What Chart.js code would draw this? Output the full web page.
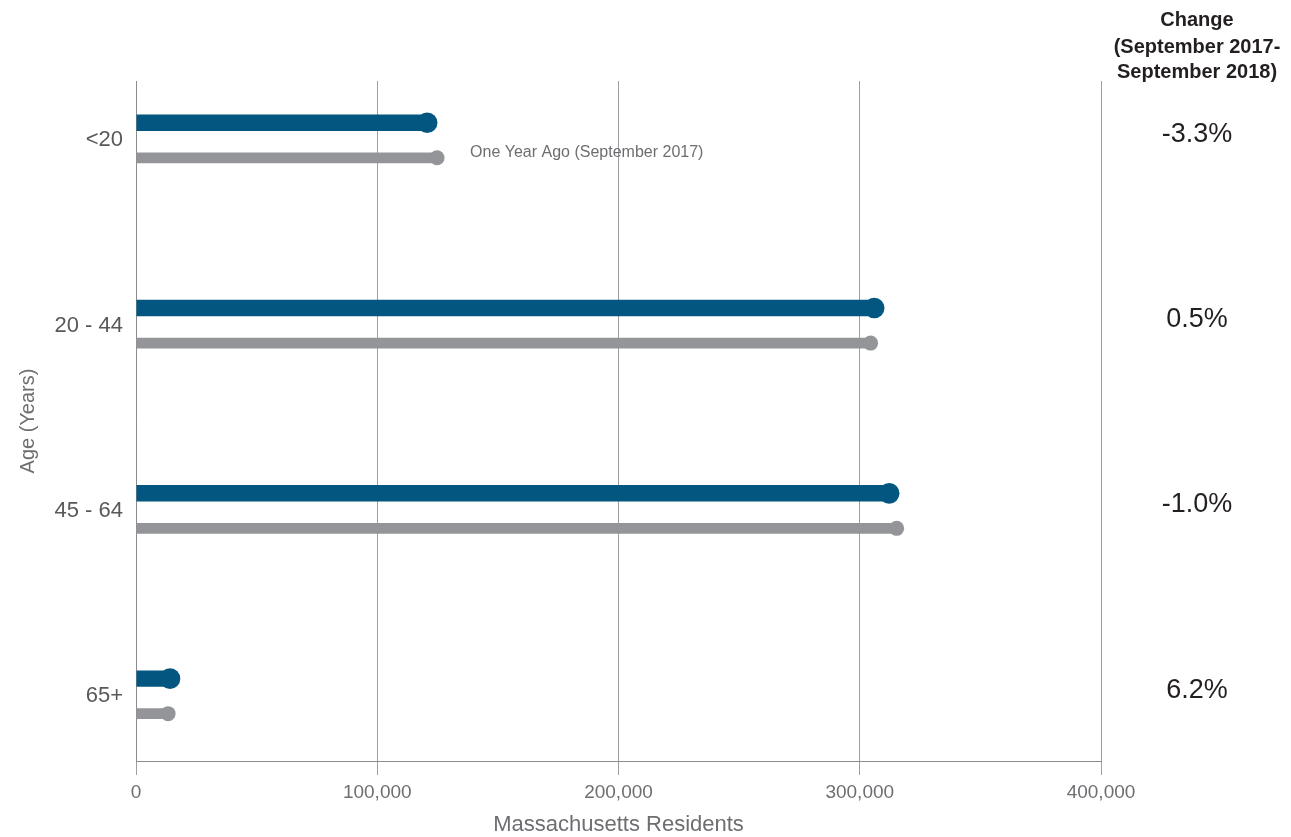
<!DOCTYPE html>
<html>
<head>
<meta charset="utf-8">
<script src="https://cdn.jsdelivr.net/npm/chart.js@4"></script>
<style>
  html, body { margin: 0; padding: 0; background: #ffffff; }
  #wrap { position: relative; width: 1291px; height: 837px; }
</style>
</head>
<body>
<div id="wrap"><canvas id="c"></canvas></div>
<script>
// ---- data ----
const categories = ['<20', '20 - 44', '45 - 64', '65+'];
const currentValues = [120700, 306000, 312200, 14100];   // September 2018
const yearAgoValues = [124800, 304500, 315300, 13300];   // September 2017
const changeLabels = ['-3.3%', '0.5%', '-1.0%', '6.2%'];
const changeHeader = ['Change', '(September 2017-', 'September 2018)'];
const yearAgoNote = 'One Year Ago (September 2017)';
const xTicks = [0, 100000, 200000, 300000, 400000];

const BLUE = '#02567f';
const GREY = '#939598';
const FONT = '"Liberation Sans", Arial, Helvetica, sans-serif';

const endCaps = {
  id: 'endCaps',
  afterDatasetsDraw(chart) {
    const ctx = chart.ctx;
    const radii = [10.3, 7.5];
    chart.data.datasets.forEach((ds, di) => {
      const meta = chart.getDatasetMeta(di);
      meta.data.forEach(el => {
        ctx.save();
        ctx.beginPath();
        ctx.arc(el.x, el.y, radii[di], 0, Math.PI * 2);
        ctx.fillStyle = ds.backgroundColor;
        ctx.fill();
        ctx.restore();
      });
    });
  },
  afterDraw(chart) {
    const ctx = chart.ctx;
    const area = chart.chartArea;
    const yScale = chart.scales.y;
    const cx = area.right + 96;
    ctx.save();
    ctx.textAlign = 'center';
    ctx.textBaseline = 'middle';
    ctx.fillStyle = '#231f20';
    ctx.font = 'bold 20px ' + FONT;
    const headerY = [20, 47, 72];
    changeHeader.forEach((t, i) => ctx.fillText(t, cx, headerY[i]));
    ctx.font = '27px ' + FONT;
    changeLabels.forEach((t, i) => {
      ctx.fillText(t, cx, yScale.getPixelForValue(i) - 6);
    });
    // note next to year-ago bar of first category
    const el = chart.getDatasetMeta(1).data[0];
    ctx.textAlign = 'left';
    ctx.fillStyle = '#6d6e71';
    ctx.font = '16px ' + FONT;
    ctx.fillText(yearAgoNote, el.x + 33, el.y - 5);
    ctx.restore();
  }
};

new Chart(document.getElementById('c'), {
  type: 'bar',
  data: {
    labels: categories,
    datasets: [
      { label: 'September 2018', data: currentValues, backgroundColor: BLUE,
        categoryPercentage: 0.378, barPercentage: 0.47 },
      { label: 'September 2017', data: yearAgoValues, backgroundColor: GREY,
        categoryPercentage: 0.378, barPercentage: 0.305 }
    ]
  },
  options: {
    indexAxis: 'y',
    responsive: true,
    maintainAspectRatio: false,
    animation: false,
    layout: { padding: { top: 81, right: 190, left: 0, bottom: 0 } },
    plugins: { legend: { display: false }, tooltip: { enabled: false } },
    scales: {
      x: {
        min: 0, max: 400000,
        afterBuildTicks(scale) { scale.ticks = xTicks.map(v => ({ value: v })); },
        afterFit(scale) { scale.height = 76; },
        grid: { color: '#9d9fa2', lineWidth: 1, tickLength: 14, drawTicks: true },
        border: { color: '#8a8c8f', width: 1 },
        ticks: {
          padding: 6,
          color: '#6d6e71',
          font: { family: FONT, size: 19 },
          callback: v => v.toLocaleString('en-US')
        },
        title: {
          display: true, text: 'Massachusetts Residents',
          color: '#6d6e71', font: { family: FONT, size: 22, lineHeight: 1.1 },
          padding: { top: 0, bottom: 0 }
        }
      },
      y: {
        afterBuildTicks(scale) { scale._startValue = -0.32; scale._valueRange = 3.67; },
        afterFit(scale) { scale.width = 136; },
        grid: { display: false, drawTicks: false },
        border: { display: true, color: '#8a8c8f', width: 1 },
        ticks: {
          padding: 13,
          color: '#58595b',
          font: { family: FONT, size: 22 }
        },
        title: {
          display: true, text: 'Age (Years)',
          color: '#6d6e71', font: { family: FONT, size: 20 },
          padding: { top: 16, bottom: 0 }
        }
      }
    }
  },
  plugins: [endCaps]
});
</script>
</body>
</html>
